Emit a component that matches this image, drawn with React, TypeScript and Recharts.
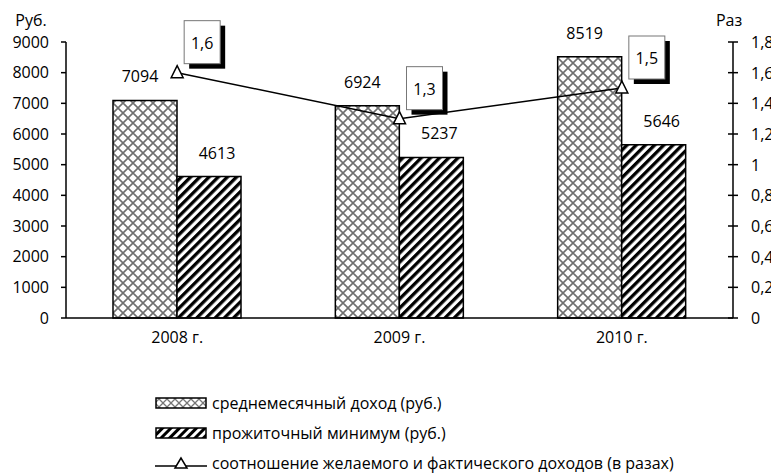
import { ComposedChart, Bar, Line, XAxis, YAxis, Legend, LabelList } from 'recharts';

const years = ['2008 г.', '2009 г.', '2010 г.'];
const income = [7094, 6924, 8519];
const minimum = [4613, 5237, 5646];
const ratio = [1.6, 1.3, 1.5];
const rubTicks = [0, 1000, 2000, 3000, 4000, 5000, 6000, 7000, 8000, 9000];
const ratioTicks = [0, 0.2, 0.4, 0.6, 0.8, 1, 1.2, 1.4, 1.6, 1.8];

const seriesNames = {
    income: 'среднемесячный доход (руб.)',
    minimum: 'прожиточный минимум (руб.)',
    ratio: 'соотношение желаемого и фактического доходов (в разах)',
};

const data = years.map((year, i) => ({
    year,
    income: income[i],
    minimum: minimum[i],
    ratio: ratio[i],
}));

const FONT = '"Open Sans", sans-serif';
const FS = 16;
const fmtComma = (v: number) => String(v).replace('.', ',');

// triangle marker, hollow
const TriangleDot = (props: any) => {
    const { cx, cy } = props;
    if (cx == null || cy == null) return null;
    return (
        <polygon
            points={`${cx},${cy - 7} ${cx - 6},${cy + 5} ${cx + 6},${cy + 5}`}
            fill="#fff"
            stroke="#000"
            strokeWidth={1.5}
        />
    );
};

// boxed value with a black drop shadow, like the Excel callouts
const BoxLabel = (props: any) => {
    const { x, y, value } = props;
    const bx = x + 7;
    const by = y - 52;
    return (
        <g>
            <rect x={bx + 5} y={by + 5} width={36} height={43} fill="#000" />
            <rect x={bx} y={by} width={36} height={43} fill="#fff" stroke="#777" strokeWidth={1} />
            <text x={bx + 18} y={by + 22} textAnchor="middle" dominantBaseline="central" fontSize={FS} fontFamily={FONT} fill="#000">
                {fmtComma(value)}
            </text>
        </g>
    );
};

// right axis tick crosses the axis line
const RightTick = (props: any) => {
    const { x, y, payload } = props;
    const axisX = x - 18;
    return (
        <g>
            <line x1={axisX - 5} x2={axisX + 5} y1={y} y2={y} stroke="#000" strokeWidth={1.5} />
            <text x={x} y={y} dominantBaseline="central" fontSize={FS} fontFamily={FONT} fill="#000">
                {fmtComma(payload.value)}
            </text>
        </g>
    );
};

const LegendIcon = ({ kind }: { kind: string }) => {
    if (kind === 'ratio') {
        return (
            <svg width={52} height={16}>
                <line x1={0} x2={52} y1={11} y2={11} stroke="#000" strokeWidth={1.5} />
                <polygon points="26,3 20,13 32,13" fill="#fff" stroke="#000" strokeWidth={1.5} />
            </svg>
        );
    }
    return (
        <svg width={52} height={16}>
            <rect x={1} y={3} width={50} height={10} fill={kind === 'income' ? 'url(#crossLegend)' : 'url(#stripeLegend)'} stroke="#000" strokeWidth={1.5} />
        </svg>
    );
};

const LegendContent = () => (
    <div style={{ fontFamily: FONT, fontSize: FS, color: '#000' }}>
        <svg width={0} height={0} style={{ position: 'absolute' }}>
            <defs>
                <pattern id="crossLegend" patternUnits="userSpaceOnUse" width={8} height={8}>
                    <rect width={8} height={8} fill="#fff" />
                    <path d="M0,0 L8,8 M8,0 L0,8" stroke="#777" strokeWidth={1.3} />
                </pattern>
                <pattern id="stripeLegend" patternUnits="userSpaceOnUse" width={6} height={6} patternTransform="rotate(45)">
                    <rect width={6} height={6} fill="#fff" />
                    <rect width={3} height={6} fill="#000" />
                </pattern>
            </defs>
        </svg>
        {(['income', 'minimum', 'ratio'] as const).map((k) => (
            <div key={k} style={{ display: 'flex', alignItems: 'center', height: 30 }}>
                <LegendIcon kind={k} />
                <span style={{ marginLeft: 5 }}>{seriesNames[k]}</span>
            </div>
        ))}
    </div>
);

export default function App() {
    return (
        <div style={{ width: 771, height: 466, background: '#fff' }}>
            <ComposedChart
                width={771}
                height={466}
                data={data}
                margin={{ top: 34, right: 0, left: 0, bottom: 126 }}
                barGap={0}
            >
                <defs>
                    <pattern id="cross" patternUnits="userSpaceOnUse" width={10} height={10}>
                        <rect width={10} height={10} fill="#fff" />
                        <path d="M0,0 L10,10 M10,0 L0,10" stroke="#707070" strokeWidth={1.6} />
                    </pattern>
                    <pattern id="stripe" patternUnits="userSpaceOnUse" width={6.5} height={6.5} patternTransform="rotate(45)">
                        <rect width={6.5} height={6.5} fill="#fff" />
                        <rect width={3.3} height={6.5} fill="#000" />
                    </pattern>
                </defs>
                <XAxis
                    dataKey="year"
                    height={30}
                    tickSize={0}
                    tickMargin={14}
                    axisLine={{ stroke: '#000', strokeWidth: 1.5 }}
                    tick={{ fill: '#000', fontSize: FS, fontFamily: FONT }}
                />
                <YAxis
                    yAxisId="rub"
                    width={58}
                    domain={[0, 9000]}
                    ticks={rubTicks}
                    interval={0}
                    tickSize={5}
                    tickMargin={12}
                    axisLine={{ stroke: '#000', strokeWidth: 1.5 }}
                    tickLine={{ stroke: '#000', strokeWidth: 1.5 }}
                    tick={{ fill: '#000', fontSize: FS, fontFamily: FONT }}
                    label={{ value: 'Руб.', position: 'top', offset: 16, dx: -6, fill: '#000', fontSize: FS, fontFamily: FONT }}
                />
                <YAxis
                    yAxisId="ratio"
                    orientation="right"
                    width={46}
                    domain={[0, 1.8]}
                    ticks={ratioTicks}
                    interval={0}
                    tickSize={5}
                    tickMargin={13}
                    tickLine={false}
                    axisLine={{ stroke: '#000', strokeWidth: 1.5 }}
                    tick={<RightTick />}
                    label={{ value: 'Раз', position: 'top', offset: 16, dx: -27, fill: '#000', fontSize: FS, fontFamily: FONT }}
                />
                <Legend
                    layout="horizontal"
                    verticalAlign="middle"
                    align="center"
                    wrapperStyle={{ top: 380, left: 147, width: 'auto' }}
                    content={<LegendContent />}
                />
                <Bar yAxisId="rub" dataKey="income" name={seriesNames.income} fill="url(#cross)" stroke="#000" strokeWidth={1.5} barSize={64} isAnimationActive={false}>
                    <LabelList dataKey="income" position="top" offset={18} dx={-5} fill="#000" fontSize={FS} fontFamily={FONT} />
                </Bar>
                <Bar yAxisId="rub" dataKey="minimum" name={seriesNames.minimum} fill="url(#stripe)" stroke="#000" strokeWidth={1.5} barSize={64} isAnimationActive={false}>
                    <LabelList dataKey="minimum" position="top" offset={18} dx={8} fill="#000" fontSize={FS} fontFamily={FONT} />
                </Bar>
                <Line
                    yAxisId="ratio"
                    dataKey="ratio"
                    name={seriesNames.ratio}
                    stroke="#000"
                    strokeWidth={1.5}
                    dot={<TriangleDot />}
                    activeDot={false}
                    isAnimationActive={false}
                >
                    <LabelList dataKey="ratio" content={<BoxLabel />} />
                </Line>
            </ComposedChart>
        </div>
    );
}
